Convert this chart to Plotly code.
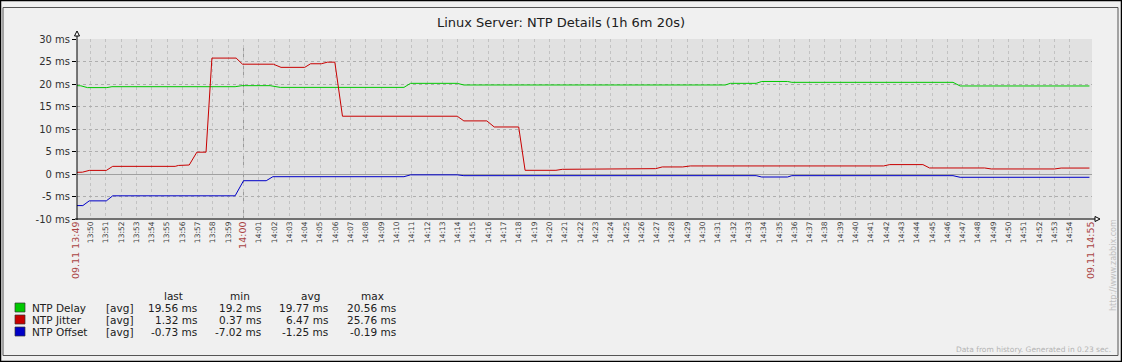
import plotly.graph_objects as go
import pandas as pd

# ---------------- data ----------------
DAY = "2013-11-09 "
title_text = "Linux Server: NTP Details (1h 6m 20s)"
range_start = "13:49:07"
range_end = "14:55:27"

delay_t = ["13:49:07", "13:49:22", "13:49:48", "13:51:04", "13:51:24", "13:59:27", "13:59:54",
           "14:01:44", "14:02:24", "14:10:29", "14:10:55", "14:13:58", "14:14:24", "14:31:29",
           "14:31:49", "14:33:30", "14:33:52", "14:35:33", "14:35:50", "14:46:22", "14:46:50",
           "14:55:17"]
delay_v = [19.63, 19.60, 19.20, 19.20, 19.40, 19.40, 19.63,
           19.63, 19.25, 19.25, 20.15, 20.15, 19.78, 19.78,
           20.15, 20.15, 20.56, 20.56, 20.37, 20.37, 19.56,
           19.56]

jitter_t = ["13:49:07", "13:49:28", "13:49:55", "13:51:02", "13:51:27", "13:55:32", "13:55:45",
            "13:56:27", "13:56:57", "13:57:33", "13:57:56", "13:59:31", "13:59:56", "14:01:57",
            "14:02:27", "14:04:00", "14:04:23", "14:05:05", "14:05:29", "14:05:58", "14:06:28",
            "14:13:58", "14:14:24", "14:15:54", "14:16:23", "14:17:59", "14:18:24", "14:20:25",
            "14:20:50", "14:24:26", "14:24:52", "14:26:56", "14:27:22", "14:28:42", "14:29:12",
            "14:41:50", "14:42:14", "14:44:24", "14:44:50", "14:48:26", "14:48:52", "14:53:00",
            "14:53:26", "14:55:17"]
jitter_v = [0.37, 0.40, 0.80, 0.80, 1.70, 1.70, 1.90,
            2.00, 4.85, 4.85, 25.76, 25.76, 24.40, 24.40,
            23.70, 23.70, 24.50, 24.50, 24.85, 24.85, 12.84,
            12.84, 11.80, 11.80, 10.45, 10.45, 0.82, 0.82,
            1.04, 1.04, 1.19, 1.19, 1.57, 1.57, 1.79,
            1.79, 2.09, 2.09, 1.34, 1.34, 1.12, 1.12,
            1.32, 1.32]

offset_t = ["13:49:07", "13:49:30", "13:49:55", "13:51:02", "13:51:27", "13:59:27", "14:00:00",
            "14:01:29", "14:01:55", "14:10:29", "14:10:55", "14:13:58", "14:14:24", "14:33:30",
            "14:33:52", "14:35:33", "14:35:50", "14:46:22", "14:46:50", "14:55:17"]
offset_v = [-7.02, -7.02, -5.97, -5.97, -4.85, -4.85, -1.49,
            -1.49, -0.60, -0.60, -0.19, -0.19, -0.37, -0.37,
            -0.67, -0.67, -0.37, -0.37, -0.73, -0.73]

series_names = ["NTP Delay", "NTP Jitter", "NTP Offset"]
series_colors = ["#00C800", "#C80000", "#0000C8"]
series_func = ["[avg]", "[avg]", "[avg]"]
stat_headers = ["last", "min", "avg", "max"]
stat_last = ["19.56 ms", "1.32 ms", "-0.73 ms"]
stat_min = ["19.2 ms", "0.37 ms", "-7.02 ms"]
stat_avg = ["19.77 ms", "6.47 ms", "-1.25 ms"]
stat_max = ["20.56 ms", "25.76 ms", "-0.19 ms"]

y_tick_vals = [-10, -5, 0, 5, 10, 15, 20, 25, 30]
y_tick_text = [f"{v} ms" for v in y_tick_vals]

start_label = "09.11 13:49"
end_label = "09.11 14:55"
highlight_minutes = ["14:00"]
minute_labels = [t.strftime("%H:%M") for t in pd.date_range(DAY + "13:50", DAY + "14:54", freq="min")]

footer_text = "Data from history. Generated in 0.23 sec."
watermark_text = "http://www.zabbix.com"

# ---------------- geometry helpers ----------------
W, H = 1122, 362
L, R, T, B = 77, 1092, 39, 219
FONT = "DejaVu Sans"
GRAY_TXT = "#404040"
RED_TXT = "#AA4444"


def px(x):
    return (x - L) / (R - L)


def py(y):
    return (B - y) / (B - T)


fig = go.Figure()
for t_list, v_list, name, col in [(delay_t, delay_v, series_names[0], series_colors[0]),
                                  (jitter_t, jitter_v, series_names[1], series_colors[1]),
                                  (offset_t, offset_v, series_names[2], series_colors[2])]:
    fig.add_trace(go.Scatter(x=[DAY + t for t in t_list], y=v_list, mode="lines", name=name,
                             line=dict(color=col, width=1), showlegend=False, hoverinfo="x+y+name"))

# x ticks
tick_vals = [DAY + range_start] + [DAY + m + ":00" for m in minute_labels] + [DAY + range_end]
tick_text = [f'<span style="color:{RED_TXT};font-size:9.5px">{start_label}</span>']
for m in minute_labels:
    if m in highlight_minutes:
        tick_text.append(f'<span style="color:{RED_TXT};font-size:9.5px">{m}</span>')
    else:
        tick_text.append(m)
tick_text.append(f'<span style="color:{RED_TXT};font-size:9.5px">{end_label}</span>')

shapes = []
# frames
shapes.append(dict(type="rect", xref="paper", yref="paper", x0=px(0.5), x1=px(1121.5), y0=py(0.5), y1=py(361.5),
                   line=dict(color="#000000", width=1.5), layer="below"))
shapes.append(dict(type="rect", xref="paper", yref="paper", x0=px(3), x1=px(1118), y0=py(7.5), y1=py(355.5),
                   line=dict(color="#555555", width=1), layer="below"))
# 14:00 main grid line
for m in highlight_minutes:
    shapes.append(dict(type="line", xref="x", yref="paper", x0=DAY + m + ":00", x1=DAY + m + ":00", y0=0, y1=1,
                       line=dict(color="#9A9A9A", width=1, dash="dash"), layer="between"))
# axes
shapes.append(dict(type="line", xref="paper", yref="paper", x0=px(75), x1=px(1095), y0=py(219), y1=py(219),
                   line=dict(color="#707070", width=2)))
shapes.append(dict(type="line", xref="paper", yref="paper", x0=px(77), x1=px(77), y0=py(220), y1=py(35),
                   line=dict(color="#000000", width=1)))
# arrows
shapes.append(dict(type="path", xref="paper", yref="paper",
                   path=f"M {px(74.5)},{py(36)} L {px(77)},{py(31)} L {px(79.5)},{py(36)} Z",
                   line=dict(color="#000000", width=1), fillcolor="#FFFFFF"))
shapes.append(dict(type="path", xref="paper", yref="paper",
                   path=f"M {px(1095)},{py(216.5)} L {px(1100)},{py(219)} L {px(1095)},{py(221.5)} Z",
                   line=dict(color="#000000", width=1), fillcolor="#FFFFFF"))

annotations = []
# legend table
row_y = [307.5, 319.5, 331.5]
head_y = 295.5
col_right = [199, 263, 330, 398]
col_center = [173, 240, 310, 372]
LEG_FS = 10.5
for h, cx in zip(stat_headers, col_center):
    annotations.append(dict(xref="paper", yref="paper", x=px(cx), y=py(head_y), text=h, showarrow=False,
                            xanchor="center", yanchor="middle", font=dict(family=FONT, size=LEG_FS, color="#202020")))
for i in range(3):
    yy = row_y[i]
    shapes.append(dict(type="rect", xref="paper", yref="paper", x0=px(15), x1=px(25), y0=py(yy - 4.5), y1=py(yy + 4.5),
                       fillcolor=series_colors[i], line=dict(color="#333333", width=0.7)))
    annotations.append(dict(xref="paper", yref="paper", x=px(30), y=py(yy), text=series_names[i], showarrow=False,
                            xanchor="left", yanchor="middle", font=dict(family=FONT, size=LEG_FS, color="#202020")))
    annotations.append(dict(xref="paper", yref="paper", x=px(104), y=py(yy), text=series_func[i], showarrow=False,
                            xanchor="left", yanchor="middle", font=dict(family=FONT, size=LEG_FS, color="#202020")))
    for vals, cr in zip([stat_last, stat_min, stat_avg, stat_max], col_right):
        annotations.append(dict(xref="paper", yref="paper", x=px(cr), y=py(yy), text=vals[i], showarrow=False,
                                xanchor="right", yanchor="middle", font=dict(family=FONT, size=LEG_FS, color="#202020")))

annotations.append(dict(xref="paper", yref="paper", x=px(1113), y=py(349), text=footer_text, showarrow=False,
                        xanchor="right", yanchor="middle", font=dict(family=FONT, size=7.5, color="#B4B4B4")))
annotations.append(dict(xref="paper", yref="paper", x=px(1113), y=py(265), text=watermark_text, showarrow=False,
                        textangle=-90, xanchor="center", yanchor="middle",
                        font=dict(family=FONT, size=8, color="#C0C0C0")))

fig.update_layout(
    width=W, height=H,
    margin=dict(l=L, r=W - R, t=T, b=H - B, pad=0),
    paper_bgcolor="#F0F0F0",
    plot_bgcolor="#E1E1E1",
    title=dict(text=title_text, x=0.5, xanchor="center", y=1 - 22 / H, yanchor="middle", yref="container",
               font=dict(family=FONT, size=13, color="#202020")),
    font=dict(family=FONT, size=10, color=GRAY_TXT),
    shapes=shapes,
    annotations=annotations,
    showlegend=False,
    xaxis=dict(type="date", range=[DAY + range_start, DAY + range_end], tickmode="array",
               tickvals=tick_vals, ticktext=tick_text, tickangle=-90,
               tickfont=dict(family=FONT, size=7.5, color=GRAY_TXT),
               showgrid=True, gridcolor="#C2C2C2", griddash="dot", gridwidth=1,
               showline=False, zeroline=False, ticks="", fixedrange=True),
    yaxis=dict(range=[-10, 30], tickmode="array", tickvals=y_tick_vals, ticktext=y_tick_text,
               tickfont=dict(family=FONT, size=10, color="#303030"),
               showgrid=True, gridcolor="#AEAEAE", griddash="dot", gridwidth=1,
               zeroline=True, zerolinecolor="#A0A0A0", zerolinewidth=1,
               showline=False, ticks="outside", ticklen=4, tickcolor="#000000", fixedrange=True),
)

fig.write_html("out.html", config={"displayModeBar": False},
               post_script="document.body.style.margin='0';document.body.style.overflow='hidden';")
